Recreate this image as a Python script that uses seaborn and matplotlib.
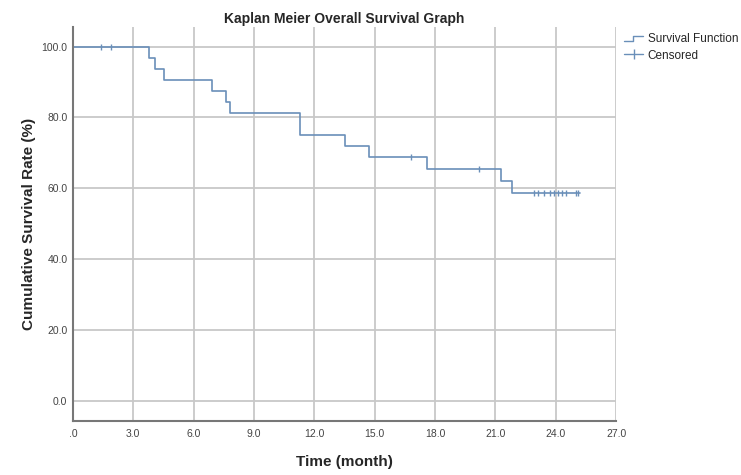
import numpy as np
import pandas as pd
import matplotlib
matplotlib.use("Agg")
import matplotlib.pyplot as plt
from matplotlib.lines import Line2D
from matplotlib.legend_handler import HandlerBase
import seaborn as sns

# survival steps (months, %)
step_time = [0, 3.8, 4.1, 4.5, 6.9, 7.6, 7.8, 11.3, 13.5, 14.7, 17.6, 21.3, 21.8, 25.2]
step_surv = [100, 96.9, 93.8, 90.6, 87.5, 84.4, 81.3, 75.0, 71.9, 68.8, 65.5, 62.1, 58.7, 58.7]

# censored cases
cens_time = [1.4, 1.9, 16.8, 20.2, 22.9, 23.1, 23.4, 23.7, 23.9, 24.1, 24.3, 24.5, 25.0, 25.1]
cens_surv = [100, 100, 68.8, 65.5, 58.7, 58.7, 58.7, 58.7, 58.7, 58.7, 58.7, 58.7, 58.7, 58.7]

x_ticks = [0, 3, 6, 9, 12, 15, 18, 21, 24, 27]
x_labels = [".0", "3.0", "6.0", "9.0", "12.0", "15.0", "18.0", "21.0", "24.0", "27.0"]
y_ticks = [0, 20, 40, 60, 80, 100]
y_labels = ["0.0", "20.0", "40.0", "60.0", "80.0", "100.0"]

line_col = "#6a8fb9"

sns.set_style("white")
plt.rcParams["font.family"] = ["Liberation Sans", "DejaVu Sans"]

km = pd.DataFrame({"time": step_time, "surv": step_surv})
cens = pd.DataFrame({"time": cens_time, "surv": cens_surv})

fig = plt.figure(figsize=(7.41, 4.75), dpi=100)
ax = fig.add_axes([0.0985, 0.1137, 0.733, 0.8295])

sns.lineplot(data=km, x="time", y="surv", ax=ax, color=line_col, lw=1.2,
             drawstyle="steps-post", estimator=None, sort=False)
sns.scatterplot(data=cens, x="time", y="surv", ax=ax, marker="|", s=25,
                color=line_col, linewidth=1.0, zorder=3)

ax.set_xlim(0, 27)
ax.set_ylim(-5.5, 105.5)
ax.set_xticks(x_ticks, labels=x_labels)
ax.set_yticks(y_ticks, labels=y_labels)
ax.tick_params(axis="x", labelsize=7.5, colors="#444444", length=0, pad=6)
ax.tick_params(axis="y", labelsize=7.5, colors="#444444", length=0, pad=4)
ax.grid(True, color="#c8c8c8", lw=1.3)
ax.set_axisbelow(True)
for s in ["top", "right"]:
    ax.spines[s].set_visible(False)
for s in ["left", "bottom"]:
    ax.spines[s].set_color("#777777")
    ax.spines[s].set_linewidth(1.5)

ax.set_title("Kaplan Meier Overall Survival Graph", fontsize=10, fontweight="bold", pad=3)
ax.set_xlabel("Time (month)", fontsize=11, fontweight="bold", labelpad=11)
ax.set_ylabel("Cumulative Survival Rate (%)", fontsize=11, fontweight="bold", labelpad=4)


class StepHandler(HandlerBase):
    def create_artists(self, legend, orig, xd, yd, w, h, fontsize, trans):
        xs = [xd, xd + w * 0.45, xd + w * 0.45, xd + w]
        ys = [yd + h * 0.2, yd + h * 0.2, yd + h * 0.8, yd + h * 0.8]
        ln = Line2D(xs, ys, color=line_col, lw=1.0, transform=trans)
        return [ln]


h1 = Line2D([0], [0], color=line_col)
h2 = Line2D([0], [0], color=line_col, marker="|", markersize=7, lw=1.0)
fig.legend([h1, h2], ["Survival Function", "Censored"],
           handler_map={h1: StepHandler()},
           loc="upper left", bbox_to_anchor=(0.828, 0.952), frameon=False,
           fontsize=8.5, handlelength=1.6, handletextpad=0.4, labelspacing=0.35)

fig.savefig("out.png", dpi=100)
